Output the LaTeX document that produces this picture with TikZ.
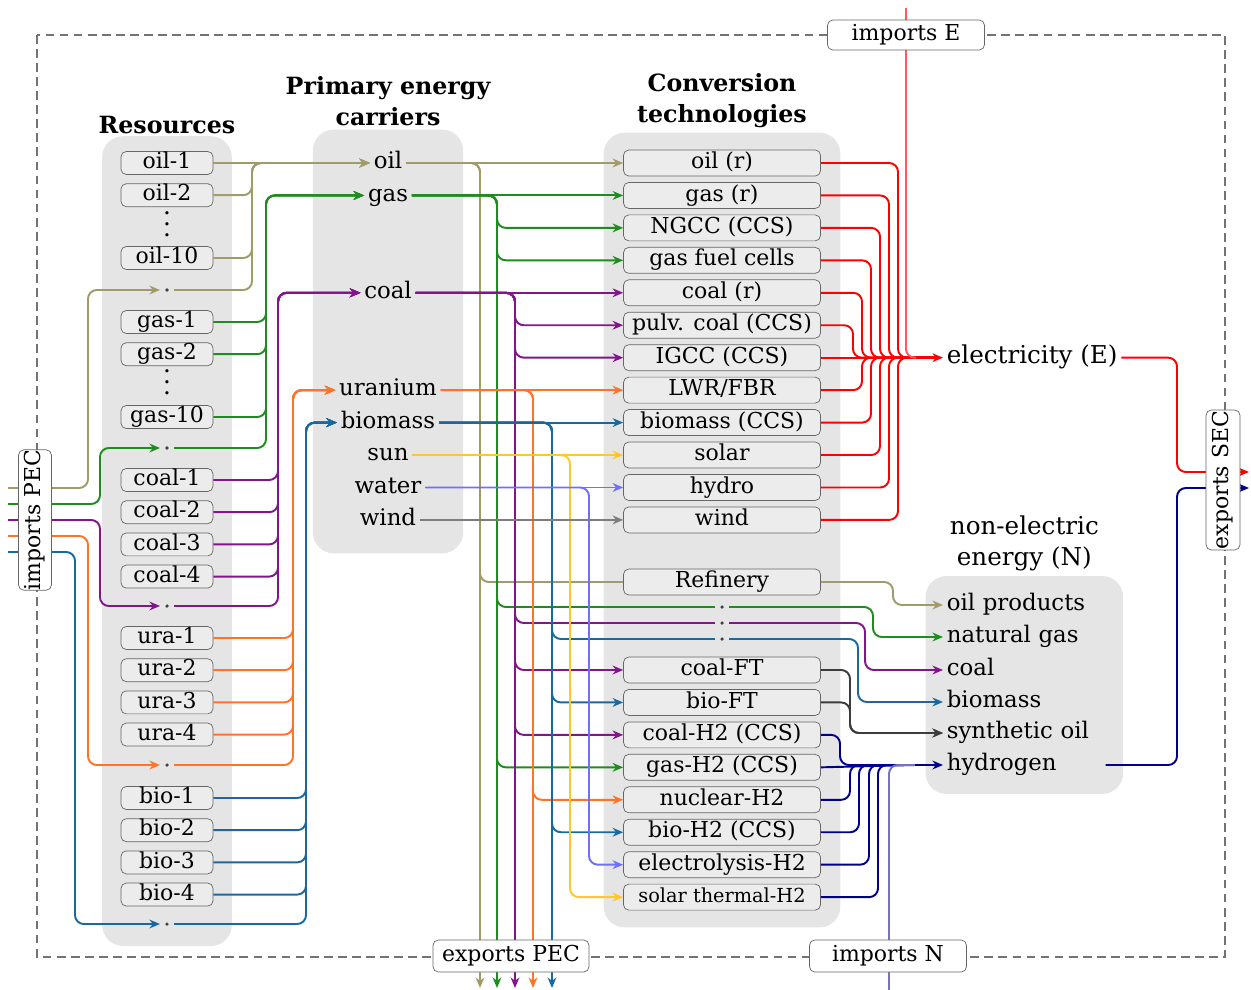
\documentclass[tikz,border=0pt]{standalone}
\usepackage{fontspec}
\setmainfont{DejaVu Serif}
\usetikzlibrary{positioning, arrows.meta, fit, backgrounds}

\definecolor{oilc}{RGB}{160,155,105}
\definecolor{gasc}{RGB}{30,140,30}
\definecolor{coalc}{RGB}{130,20,140}
\definecolor{urac}{RGB}{255,115,40}
\definecolor{bioc}{RGB}{25,105,160}
\definecolor{sunc}{RGB}{255,200,40}
\definecolor{waterc}{RGB}{110,110,255}
\definecolor{windc}{RGB}{125,125,125}
\definecolor{elecc}{RGB}{255,0,0}
\definecolor{hydc}{RGB}{0,0,140}
\definecolor{sync}{RGB}{60,60,60}

\begin{document}
\begin{tikzpicture}[x=0.02cm, y=-0.02cm,
  res/.style={draw=black!60, fill=gray!15, rounded corners=3pt, minimum width=1.84cm,
              minimum height=0.46cm, inner sep=0pt, text height=9.2pt, text depth=2.8pt,
              font=\fontsize{12.5}{13}\selectfont},
  tech/.style={res, minimum width=3.94cm, minimum height=0.52cm, inner xsep=1pt},
  carrier/.style={inner sep=2pt, text height=9pt, text depth=2.5pt,
                  font=\fontsize{13}{14}\selectfont},
  nitem/.style={carrier, anchor=west, text width=3.1cm, align=left},
  port/.style={draw=black!60, fill=white, rounded corners=3pt, inner sep=0pt,
               minimum height=0.64cm, text height=9.2pt, text depth=2.8pt,
               font=\fontsize{12.5}{13}\selectfont},
  grp/.style={fill=gray!20, rounded corners=12pt},
  head/.style={align=center, inner sep=1pt, font=\fontsize{13.5}{17.5}\selectfont\bfseries},
  imp/.style={circle, fill=black!75, inner sep=0pt, minimum size=2pt, outer sep=3pt},
  vdot/.style={inner sep=0pt, align=center, font=\fontsize{14}{6.2}\selectfont},
  flow/.style={line width=1.1pt, rounded corners=5pt},
  arr/.style={flow, -{Stealth[length=6pt, width=5pt]}},
  sysline/.style={draw=black!55, line width=0.7pt, dash pattern=on 5pt off 3pt},
]
\useasboundingbox (0,0) rectangle (1251,990);

% System boundary
\draw[sysline] (37,35) rectangle (1225,957);

% Resources
\node[res] (oil1) at (167,163) {oil-1};
\node[res, below=0.17cm of oil1] (oil2) {oil-2};
\node[vdot] (oildots) at (167,224) {.\\.\\.};
\node[res] (oil10) at (167,258) {oil-10};
\node[imp] (oilimp) at (167,290) {};

\node[res] (gas1) at (167,322) {gas-1};
\node[res, below=0.17cm of gas1] (gas2) {gas-2};
\node[vdot] (gasdots) at (167,382) {.\\.\\.};
\node[res] (gas10) at (167,417) {gas-10};
\node[imp] (gasimp) at (167,448) {};

\node[res] (coal1) at (167,480) {coal-1};
\node[res, below=0.17cm of coal1] (coal2) {coal-2};
\node[res, below=0.17cm of coal2] (coal3) {coal-3};
\node[res, below=0.17cm of coal3] (coal4) {coal-4};
\node[imp] (coalimp) at (167,606) {};

\node[res] (ura1) at (167,638) {ura-1};
\node[res, below=0.17cm of ura1] (ura2) {ura-2};
\node[res, below=0.17cm of ura2] (ura3) {ura-3};
\node[res, below=0.17cm of ura3] (ura4) {ura-4};
\node[imp] (uraimp) at (167,765) {};

\node[res] (bio1) at (167,798) {bio-1};
\node[res, below=0.17cm of bio1] (bio2) {bio-2};
\node[res, below=0.17cm of bio2] (bio3) {bio-3};
\node[res, below=0.17cm of bio3] (bio4) {bio-4};
\node[imp] (bioimp) at (167,924) {};

% Conversion technologies
\node[tech] (oilr) at (722,163) {oil (r)};
\node[tech, below=0.115cm of oilr] (gasr) {gas (r)};
\node[tech, below=0.115cm of gasr] (ngcc) {NGCC (CCS)};
\node[tech, below=0.115cm of ngcc] (gfc) {gas fuel cells};
\node[tech, below=0.115cm of gfc] (coalr) {coal (r)};
\node[tech, below=0.115cm of coalr] (pulv) {pulv. coal (CCS)};
\node[tech, below=0.115cm of pulv] (igcc) {IGCC (CCS)};
\node[tech, below=0.115cm of igcc] (lwr) {LWR/FBR};
\node[tech, below=0.115cm of lwr] (bior) {biomass (CCS)};
\node[tech, below=0.115cm of bior] (solar) {solar};
\node[tech, below=0.115cm of solar] (hydro) {hydro};
\node[tech, below=0.115cm of hydro] (windt) {wind};

\node[tech] (refin) at (722,582) {Refinery};
\node[imp] (ngdot) at (722,607) {};
\node[imp] (cdot) at (722,623) {};
\node[imp] (bdot) at (722,639) {};

\node[tech] (coalft) at (722,670) {coal-FT};
\node[tech, below=0.115cm of coalft] (bioft) {bio-FT};
\node[tech, below=0.115cm of bioft] (coalh) {coal-H2 (CCS)};
\node[tech, below=0.115cm of coalh] (gash) {gas-H2 (CCS)};
\node[tech, below=0.115cm of gash] (nuch) {nuclear-H2};
\node[tech, below=0.115cm of nuch] (bioh) {bio-H2 (CCS)};
\node[tech, below=0.115cm of bioh] (elyh) {electrolysis-H2};
\node[tech, below=0.115cm of elyh, font=\fontsize{11}{12}\selectfont] (solh) {solar thermal-H2};

% Primary energy carriers
\node[carrier] (coil) at (oilr.west -| 388,0) {oil};
\node[carrier] (cgas) at (gasr.west -| 388,0) {gas};
\node[carrier] (ccoal) at (coalr.west -| 388,0) {coal};
\node[carrier] (curan) at (lwr.west -| 388,0) {uranium};
\node[carrier] (cbio) at (bior.west -| 388,0) {biomass};
\node[carrier] (csun) at (solar.west -| 388,0) {sun};
\node[carrier] (cwater) at (hydro.west -| 388,0) {water};
\node[carrier] (cwind) at (windt.west -| 388,0) {wind};

% Electricity
\coordinate (ejn) at (igcc.east -| 916,0);
\node[carrier, anchor=west, font=\fontsize{14}{15}\selectfont, right=0.54cm of ejn] (elec) {electricity (E)};

% Non-electric energy
\node[nitem] (oilp) at (943,605) {oil products};
\node[nitem] (natg) at (943,637) {natural gas};
\node[nitem] (ncoal) at (943,670) {coal};
\node[nitem] (nbio) at (943,702) {biomass};
\node[nitem] (synoil) at (943,733) {synthetic oil};
\node[nitem] (hyd) at (943,765) {hydrogen};
\coordinate (hjn) at (hyd.west -| 915,0);

% Groups
\begin{scope}[on background layer]
\node[grp, fit=(oil1)(bioimp), inner xsep=0.37cm, inner ysep=0.3cm] (rgrp) {};
\node[grp, fit=(coil)(curan)(cwind), inner xsep=0.45cm, inner ysep=0.39cm] (cgrp) {};
\node[grp, fit=(oilr)(solh), inner xsep=0.39cm, inner ysep=0.34cm] (tgrp) {};
\node[grp, fit=(oilp)(hyd), inner xsep=0.35cm, inner ysep=0.3cm] (ngrp) {};
\end{scope}

% Headings
\node[head, above=0.0cm of rgrp] (hres) {Resources};
\node[head, above=0.02cm of cgrp] (hcar) {Primary energy\\carriers};
\node[head, above=0.05cm of tgrp] (htech) {Conversion\\technologies};
\node[head, font=\fontsize{14}{17.5}\selectfont, above=0.06cm of ngrp] (hnon) {non-electric\\energy (N)};

% Trunk lines
\coordinate (ro) at (252,0);
\coordinate (rg) at (266,0);
\coordinate (rc) at (278,0);
\coordinate (ru) at (293,0);
\coordinate (rb) at (306,0);
\coordinate (io) at (88,0);
\coordinate (ig) at (100,0);
\coordinate (ib) at (75,0);
\coordinate (bo) at (480,0);
\coordinate (bg) at (497,0);
\coordinate (bc) at (515,0);
\coordinate (bu) at (533,0);
\coordinate (bb) at (552,0);
\coordinate (bs) at (570,0);
\coordinate (bw) at (589,0);
\coordinate (e1) at (898,0);
\coordinate (e2) at (889,0);
\coordinate (e3) at (880,0);
\coordinate (e4) at (871,0);
\coordinate (e5) at (862,0);
\coordinate (e6) at (853,0);
\coordinate (np) at (893,0);
\coordinate (ng) at (873,0);
\coordinate (nc) at (865,0);
\coordinate (nb) at (858,0);
\coordinate (ns) at (850,0);
\coordinate (h1) at (840,0);
\coordinate (h2) at (850,0);
\coordinate (h3) at (859,0);
\coordinate (h4) at (869,0);
\coordinate (h5) at (878,0);
\coordinate (sx) at (1177,0);
\coordinate (pecbot) at (0,988);

% Free ends
\coordinate (inoil) at (8,488);
\coordinate (ingas) at (8,504);
\coordinate (incoal) at (8,520);
\coordinate (inura) at (8,536);
\coordinate (inbio) at (8,552);
\coordinate (topE) at (906,8);
\coordinate (botN) at (889,990);
\coordinate (outE) at (1249,472);
\coordinate (outH) at (1249,488);

% Imports PEC
\draw[arr, oilc] (inoil) -| (io |- oilimp.west) -- (oilimp.west);
\draw[arr, gasc] (ingas) -| (ig |- gasimp.west) -- (gasimp.west);
\draw[arr, coalc] (incoal) -| (ig |- coalimp.west) -- (coalimp.west);
\draw[arr, urac] (inura) -| (io |- uraimp.west) -- (uraimp.west);
\draw[arr, bioc] (inbio) -| (ib |- bioimp.west) -- (bioimp.west);

% Resources to carriers
\draw[arr, oilc] (oil1.east) -- (coil.west);
\draw[arr, oilc] (oil2.east) -| (ro |- coil.west) -- (coil.west);
\draw[arr, oilc] (oil10.east) -| (ro |- coil.west) -- (coil.west);
\draw[arr, oilc] (oilimp.east) -| (ro |- coil.west) -- (coil.west);

\draw[arr, gasc] (gas1.east) -| (rg |- cgas.west) -- (cgas.west);
\draw[arr, gasc] (gas2.east) -| (rg |- cgas.west) -- (cgas.west);
\draw[arr, gasc] (gas10.east) -| (rg |- cgas.west) -- (cgas.west);
\draw[arr, gasc] (gasimp.east) -| (rg |- cgas.west) -- (cgas.west);

\draw[arr, coalc] (coal1.east) -| (rc |- ccoal.west) -- (ccoal.west);
\draw[arr, coalc] (coal2.east) -| (rc |- ccoal.west) -- (ccoal.west);
\draw[arr, coalc] (coal3.east) -| (rc |- ccoal.west) -- (ccoal.west);
\draw[arr, coalc] (coal4.east) -| (rc |- ccoal.west) -- (ccoal.west);
\draw[arr, coalc] (coalimp.east) -| (rc |- ccoal.west) -- (ccoal.west);

\draw[arr, urac] (ura1.east) -| (ru |- curan.west) -- (curan.west);
\draw[arr, urac] (ura2.east) -| (ru |- curan.west) -- (curan.west);
\draw[arr, urac] (ura3.east) -| (ru |- curan.west) -- (curan.west);
\draw[arr, urac] (ura4.east) -| (ru |- curan.west) -- (curan.west);
\draw[arr, urac] (uraimp.east) -| (ru |- curan.west) -- (curan.west);

\draw[arr, bioc] (bio1.east) -| (rb |- cbio.west) -- (cbio.west);
\draw[arr, bioc] (bio2.east) -| (rb |- cbio.west) -- (cbio.west);
\draw[arr, bioc] (bio3.east) -| (rb |- cbio.west) -- (cbio.west);
\draw[arr, bioc] (bio4.east) -| (rb |- cbio.west) -- (cbio.west);
\draw[arr, bioc] (bioimp.east) -| (rb |- cbio.west) -- (cbio.west);

% Carriers to conversion
\draw[arr, oilc] (coil.east) -- (oilr.west);
\draw[flow, oilc] (coil.east) -| (bo |- refin.west) -- (refin.west);
\draw[arr, oilc] (coil.east) -| (bo |- pecbot);

\draw[arr, gasc] (cgas.east) -- (gasr.west);
\draw[arr, gasc] (cgas.east) -| (bg |- ngcc.west) -- (ngcc.west);
\draw[arr, gasc] (cgas.east) -| (bg |- gfc.west) -- (gfc.west);
\draw[flow, gasc] (cgas.east) -| (bg |- ngdot.west) -- (ngdot.west);
\draw[arr, gasc] (cgas.east) -| (bg |- gash.west) -- (gash.west);
\draw[arr, gasc] (cgas.east) -| (bg |- pecbot);

\draw[arr, coalc] (ccoal.east) -- (coalr.west);
\draw[arr, coalc] (ccoal.east) -| (bc |- pulv.west) -- (pulv.west);
\draw[arr, coalc] (ccoal.east) -| (bc |- igcc.west) -- (igcc.west);
\draw[flow, coalc] (ccoal.east) -| (bc |- cdot.west) -- (cdot.west);
\draw[arr, coalc] (ccoal.east) -| (bc |- coalft.west) -- (coalft.west);
\draw[arr, coalc] (ccoal.east) -| (bc |- coalh.west) -- (coalh.west);
\draw[arr, coalc] (ccoal.east) -| (bc |- pecbot);

\draw[arr, urac] (curan.east) -- (lwr.west);
\draw[arr, urac] (curan.east) -| (bu |- nuch.west) -- (nuch.west);
\draw[arr, urac] (curan.east) -| (bu |- pecbot);

\draw[arr, bioc] (cbio.east) -- (bior.west);
\draw[flow, bioc] (cbio.east) -| (bb |- bdot.west) -- (bdot.west);
\draw[arr, bioc] (cbio.east) -| (bb |- bioft.west) -- (bioft.west);
\draw[arr, bioc] (cbio.east) -| (bb |- bioh.west) -- (bioh.west);
\draw[arr, bioc] (cbio.east) -| (bb |- pecbot);

\draw[arr, sunc] (csun.east) -- (solar.west);
\draw[arr, sunc] (csun.east) -| (bs |- solh.west) -- (solh.west);

\draw[arr, waterc] (cwater.east) -- (hydro.west);
\draw[arr, waterc] (cwater.east) -| (bw |- elyh.west) -- (elyh.west);

\draw[arr, windc] (cwind.east) -- (windt.west);

% Conversion to electricity
\draw[flow, elecc] (oilr.east) -| (e1 |- ejn) -- (ejn);
\draw[flow, elecc] (gasr.east) -| (e2 |- ejn) -- (ejn);
\draw[flow, elecc] (ngcc.east) -| (e3 |- ejn) -- (ejn);
\draw[flow, elecc] (gfc.east) -| (e4 |- ejn) -- (ejn);
\draw[flow, elecc] (coalr.east) -| (e5 |- ejn) -- (ejn);
\draw[flow, elecc] (pulv.east) -| (e6 |- ejn) -- (ejn);
\draw[flow, elecc] (igcc.east) -- (ejn);
\draw[flow, elecc] (lwr.east) -| (e5 |- ejn) -- (ejn);
\draw[flow, elecc] (bior.east) -| (e4 |- ejn) -- (ejn);
\draw[flow, elecc] (solar.east) -| (e3 |- ejn) -- (ejn);
\draw[flow, elecc] (hydro.east) -| (e2 |- ejn) -- (ejn);
\draw[flow, elecc] (windt.east) -| (e1 |- ejn) -- (ejn);
\draw[flow, elecc!65] (topE) |- (ejn);
\draw[arr, elecc, line width=1.7pt] (ejn) -- (elec.west);

% Conversion to non-electric energy
\draw[arr, oilc] (refin.east) -| (np |- oilp.west) -- (oilp.west);
\draw[arr, gasc] (ngdot.east) -| (ng |- natg.west) -- (natg.west);
\draw[arr, coalc] (cdot.east) -| (nc |- ncoal.west) -- (ncoal.west);
\draw[arr, bioc] (bdot.east) -| (nb |- nbio.west) -- (nbio.west);
\draw[arr, sync] (coalft.east) -| (ns |- synoil.west) -- (synoil.west);
\draw[arr, sync] (bioft.east) -| (ns |- synoil.west) -- (synoil.west);

\draw[flow, hydc] (coalh.east) -| (h1 |- hjn) -- (hjn);
\draw[flow, hydc] (gash.east) -- (hjn);
\draw[flow, hydc] (nuch.east) -| (h2 |- hjn) -- (hjn);
\draw[flow, hydc] (bioh.east) -| (h3 |- hjn) -- (hjn);
\draw[flow, hydc] (elyh.east) -| (h4 |- hjn) -- (hjn);
\draw[flow, hydc] (solh.east) -| (h5 |- hjn) -- (hjn);
\draw[flow, hydc!55] (botN) |- (hjn);
\draw[arr, hydc, line width=1.5pt] (hjn) -- (hyd.west);

% Exports SEC
\draw[arr, elecc] (elec.east) -| (sx |- outE) -- (outE);
\draw[arr, hydc] (hyd.east) -| (sx |- outH) -- (outH);

% Ports (drawn last, over the flows)
\node[port, rotate=90, minimum width=2.8cm, minimum height=0.66cm] (impPEC) at (35,520) {imports PEC};
\node[port, rotate=90, minimum width=2.8cm, minimum height=0.68cm] (expSEC) at (1223,480) {exports SEC};
\node[port, minimum width=3.14cm, minimum height=0.6cm] (impE) at (906,35) {imports E};
\node[port, minimum width=3.12cm] (expPEC) at (511,956) {exports PEC};
\node[port, minimum width=3.14cm] (impN) at (888,956) {imports N};

\end{tikzpicture}
\end{document}
